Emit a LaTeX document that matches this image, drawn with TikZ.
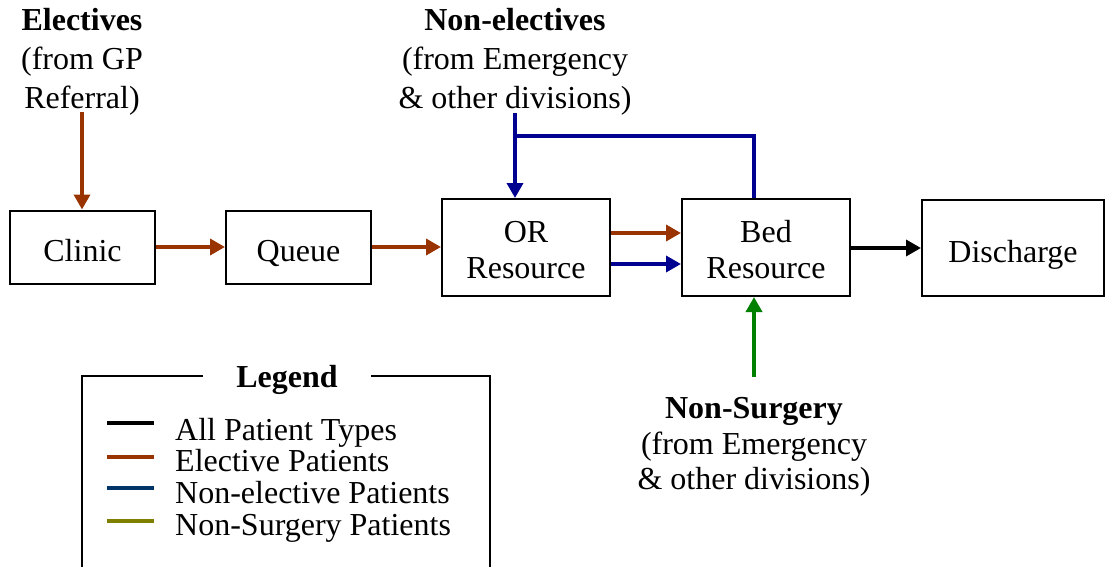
\documentclass[tikz,border=0pt]{standalone}
\usepackage{fontspec}
\setmainfont{Liberation Serif}
\usetikzlibrary{arrows.meta}
\definecolor{elec}{HTML}{993300}
\definecolor{nonel}{HTML}{000090}
\definecolor{nonsurg}{HTML}{008000}
\definecolor{legblue}{HTML}{003366}
\definecolor{legolive}{HTML}{808000}
\begin{document}
\begin{tikzpicture}[x=1pt,y=-1pt,
  box/.style={draw=black,line width=2pt,fill=white,align=center,inner sep=0pt,
    font=\fontsize{32}{36}\selectfont},
  onel/.style={text height=28pt,text depth=0pt},
  twol/.style={text height=61pt,text depth=0pt},
  lbl/.style={align=center,inner sep=0pt,font=\fontsize{32}{39}\selectfont},
  flow/.style={line width=3.5pt,-{Triangle[length=15pt,width=16pt]}},
  legline/.style={line width=3.5pt},
  legtext/.style={anchor=base west,inner sep=0pt,font=\fontsize{32}{36}\selectfont}]
\useasboundingbox (0,0) rectangle (1105,567);
% boxes
\node[box,onel,minimum width=145pt,minimum height=73pt] (clinic) at (82.5,247) {Clinic};
\node[box,onel,minimum width=145pt,minimum height=73pt] (queue) at (298.5,247) {Queue};
\node[box,twol,minimum width=168pt,minimum height=97pt] (or) at (526,247.5) {OR\\Resource};
\node[box,twol,minimum width=168pt,minimum height=97pt] (bed) at (766,247.5) {Bed\\Resource};
\node[box,onel,minimum width=182pt,minimum height=96pt] (dis) at (1013,248) {Discharge};
% labels
\node[lbl] (elab) at (82,62) {\textbf{Electives}\\(from GP\\Referral)};
\node[lbl] (nlab) at (515,62) {\textbf{Non-electives}\\(from Emergency\\\& other divisions)};
\node[lbl,font=\fontsize{32}{35.5}\selectfont] (slab) at (754,447) {\textbf{Non-Surgery}\\(from Emergency\\\& other divisions)};
% source coordinates
\coordinate (esrc) at (82,112);
\coordinate (nsrc) at (515,113);
\coordinate (nbr) at (515,136);
\coordinate (bj) at (754,136);
\coordinate (gsrc) at (754,377);
% connectors
\draw[flow,elec] (esrc) -- (esrc |- clinic.north);
\draw[flow,elec] (clinic.east) -- (queue.west);
\draw[flow,elec] (queue.east) -- (queue.east -| or.west);
\draw[flow,elec] ([yshift=14.5pt]or.east) -- ([yshift=14.5pt]bed.west);
\draw[flow,nonel] ([yshift=-16.5pt]or.east) -- ([yshift=-16.5pt]bed.west);
\draw[flow,nonel] (nsrc) -- (nsrc |- or.north);
\draw[line width=3.5pt,nonel,line join=miter] (nbr) -- (bj) -- (bj |- bed.north);
\draw[flow,black] (bed.east |- dis.west) -- (dis.west);
\draw[flow,nonsurg] (gsrc) -- (gsrc |- bed.south);
% legend
\node[inner sep=0pt,font=\fontsize{32}{36}\selectfont\bfseries] (legtitle) at (287,380) {Legend};
\draw[line width=2pt] (203,376) -- (82,376) -- (82,567);
\draw[line width=2pt] (371,376) -- (490,376) -- (490,567);
\draw[legline,black] (107,423) -- (154,423);
\draw[legline,elec] (107,457) -- (154,457);
\draw[legline,legblue] (107,488) -- (154,488);
\draw[legline,legolive] (107,521) -- (154,521);
\node[legtext] (l1) at (175,440) {All Patient Types};
\node[legtext] (l2) at (175,471) {Elective Patients};
\node[legtext] (l3) at (175,503) {Non-elective Patients};
\node[legtext] (l4) at (175,535) {Non-Surgery Patients};
\end{tikzpicture}
\end{document}
